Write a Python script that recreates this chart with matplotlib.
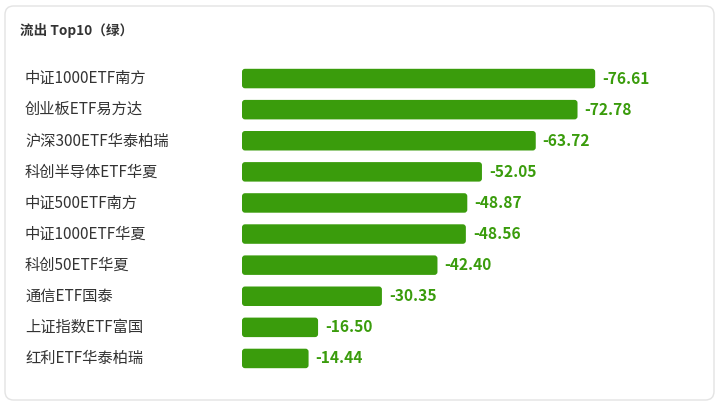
import matplotlib
matplotlib.use("Agg")
import matplotlib.pyplot as plt
from matplotlib.patches import FancyBboxPatch
from matplotlib.transforms import blended_transform_factory

plt.rcParams['font.family'] = ['Noto Sans CJK SC', 'DejaVu Sans']

names = ['中证1000ETF南方', '创业板ETF易方达', '沪深300ETF华泰柏瑞', '科创半导体ETF华夏',
         '中证500ETF南方', '中证1000ETF华夏', '科创50ETF华夏', '通信ETF国泰',
         '上证指数ETF富国', '红利ETF华泰柏瑞']
values = [-76.61, -72.78, -63.72, -52.05, -48.87, -48.56, -42.40, -30.35, -16.50, -14.44]

green = '#3a9c0c'
W, H = 720, 405
fig = plt.figure(figsize=(W / 100, H / 100), dpi=100, facecolor='white')

# card behind everything
card = FancyBboxPatch((5 / W, 5 / H), 709 / W, 394 / H,
                      boxstyle="round,pad=0,rounding_size=0.012",
                      transform=fig.transFigure, facecolor='white',
                      edgecolor='#e3e3e3', linewidth=1, mutation_aspect=W / H,
                      zorder=-10)
fig.add_artist(card)

fig.text(20 / W, 1 - 31 / H, '流出 Top10（绿）', fontsize=9.8, fontweight='bold',
         color='#333333', va='center', ha='left')

# axes: zero at x=242px, 4.61 px per unit
ax_left, ax_w = 242, 440
ax_top, ax_h = 63, 311
ax = fig.add_axes([ax_left / W, 1 - (ax_top + ax_h) / H, ax_w / W, ax_h / H])
ax.set_zorder(5)
ax.set_xlim(0, ax_w / 4.61)
ax.set_ylim(len(names) - 0.5, -0.5)
ax.axis('off')

px_x = 4.61
px_y = ax_h / len(names)
r = 3.0
bh = 19.5 / px_y
for i, v in enumerate(values):
    L = abs(v)
    bar = FancyBboxPatch((0, i - bh / 2), L, bh,
                         boxstyle=f"round,pad=0,rounding_size={r / px_x}",
                         mutation_aspect=px_x / px_y,
                         facecolor=green, edgecolor='none')
    ax.add_patch(bar)
    ax.annotate(f'{v:.2f}', xy=(L, i), xytext=(5, 0), textcoords='offset points',
                ha='left', va='center', fontsize=11.2, fontweight='bold', color=green)

tr = blended_transform_factory(fig.transFigure, ax.transData)
for i, n in enumerate(names):
    ax.text(25 / W, i, n, transform=tr, ha='left', va='center',
            fontsize=11, color='#333333', clip_on=False)

fig.savefig('out.png', dpi=100, facecolor='white')
